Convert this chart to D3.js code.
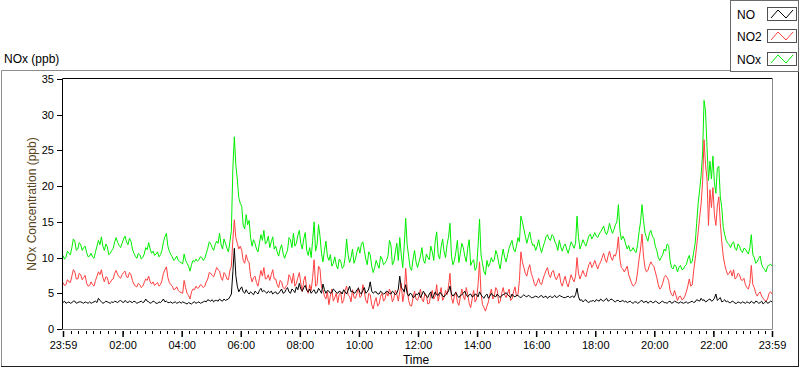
<!DOCTYPE html>
<html lang="en">
<head>
<meta charset="UTF-8">
<title>NOx (ppb)</title>
<script src="https://d3js.org/d3.v7.min.js"></script>
<style>
  body { margin: 0; background: #fff; }
  svg text { font-family: "Liberation Sans", Arial, sans-serif; fill: #000; }
</style>
</head>
<body>
<svg width="800" height="369"></svg>
<script>

  // series (legend order)
  var seriesNames = ["NO", "NO2", "NOx"];
  var seriesColors = ["#000000", "#ff4040", "#00ee00"];

  // readings every 3 minutes from 23:59, one row per hour
  var noData = [
    3.7, 3.9, 3.6, 3.7, 3.8, 3.6, 3.7, 3.9, 3.9, 3.6, 3.7, 3.8, 3.8, 3.7, 3.6, 3.8, 3.7, 3.6, 3.8, 3.6,
    3.7, 3.8, 3.9, 3.7, 4.3, 4.0, 3.8, 3.6, 3.7, 3.9, 3.8, 3.7, 3.6, 3.8, 3.7, 3.9, 3.8, 3.7, 3.9, 4.0,
    3.8, 3.7, 4.0, 3.8, 3.7, 3.9, 3.8, 3.7, 3.9, 3.8, 3.6, 3.7, 3.8, 3.9, 3.7, 3.8, 4.2, 3.9, 3.8, 3.6,
    3.7, 3.9, 3.8, 3.6, 3.6, 3.8, 3.7, 3.9, 4.2, 3.8, 3.9, 3.7, 3.7, 3.8, 3.6, 3.7, 3.8, 3.6, 3.7, 3.8,
    3.6, 3.8, 3.7, 3.6, 3.5, 3.7, 3.6, 3.5, 3.7, 3.8, 3.6, 3.7, 3.8, 3.6, 3.7, 3.8, 3.9, 3.8, 4.1, 4.0,
    3.9, 4.1, 3.8, 4.0, 4.0, 3.9, 4.2, 4.0, 3.9, 4.2, 4.0, 4.1, 4.2, 4.5, 4.9, 8.0, 11.3, 7.5, 6.0, 5.2,
    5.6, 5.9, 5.2, 5.0, 5.5, 5.1, 4.9, 5.2, 5.0, 4.8, 5.3, 5.1, 4.9, 5.4, 5.7, 5.2, 5.4, 5.2, 5.0, 5.3,
    5.1, 5.3, 4.9, 5.1, 5.2, 4.9, 5.0, 5.3, 5.6, 5.0, 5.1, 5.5, 5.8, 5.2, 5.0, 5.6, 5.4, 5.1, 5.9, 5.5,
    6.4, 5.6, 5.3, 5.8, 6.1, 5.4, 5.2, 5.6, 5.0, 5.3, 5.5, 5.0, 5.1, 5.7, 5.4, 5.0, 6.3, 5.5, 5.0, 5.4,
    5.3, 5.0, 5.1, 5.6, 5.4, 5.1, 5.0, 5.3, 5.2, 4.9, 5.5, 5.2, 4.9, 5.4, 6.0, 5.2, 5.3, 5.0, 5.1, 5.5,
    5.7, 5.1, 4.9, 5.4, 5.8, 5.0, 5.2, 5.6, 6.6, 5.3, 5.0, 5.2, 5.2, 4.9, 4.9, 5.3, 5.1, 4.9, 5.0, 5.3,
    5.2, 5.0, 4.9, 5.3, 5.1, 4.8, 5.0, 5.6, 7.4, 5.8, 5.6, 5.2, 6.2, 5.0, 4.6, 5.0, 4.9, 4.4, 4.5, 4.9,
    4.8, 5.1, 4.4, 4.8, 5.3, 4.9, 4.6, 4.4, 4.9, 5.2, 4.3, 4.7, 5.2, 4.8, 4.7, 5.1, 5.0, 4.6, 4.5, 4.8,
    5.0, 5.3, 6.0, 4.9, 4.6, 4.9, 5.1, 4.7, 4.4, 4.7, 4.8, 5.0, 5.3, 4.8, 4.5, 4.8, 4.9, 4.5, 4.6, 4.9,
    4.8, 4.5, 5.2, 4.8, 4.5, 4.3, 4.7, 4.9, 4.3, 4.6, 5.0, 4.7, 4.6, 4.5, 4.9, 4.6, 4.4, 4.7, 4.8, 4.9,
    5.1, 4.8, 4.6, 4.4, 4.9, 4.6, 4.5, 4.7, 4.7, 4.5, 4.4, 4.6, 4.8, 4.6, 4.5, 4.7, 4.6, 4.4, 4.4, 4.5,
    4.6, 4.5, 4.4, 4.6, 4.7, 4.4, 4.5, 4.6, 4.3, 4.5, 4.6, 4.4, 4.5, 4.7, 4.4, 4.5, 4.7, 4.6, 4.5, 4.4,
    4.4, 4.5, 4.6, 4.4, 4.5, 4.6, 4.4, 4.8, 5.7, 4.5, 4.0, 4.1, 3.8, 4.0, 4.1, 3.8, 3.7, 3.9, 3.9, 4.0,
    3.8, 4.1, 4.0, 3.9, 4.2, 4.0, 3.9, 4.1, 4.3, 3.9, 4.0, 4.2, 4.1, 3.9, 3.8, 4.0, 4.0, 3.8, 3.9, 4.0,
    3.8, 3.9, 3.7, 3.8, 3.9, 3.7, 3.6, 3.8, 3.8, 3.6, 3.7, 3.9, 4.0, 3.7, 3.8, 3.9, 3.6, 3.8, 3.9, 3.7,
    3.7, 3.9, 3.8, 3.6, 3.6, 3.8, 3.9, 3.7, 3.7, 3.6, 3.8, 3.9, 3.6, 3.7, 3.9, 3.8, 3.7, 3.6, 3.8, 3.7,
    3.6, 3.7, 3.8, 3.6, 3.7, 3.8, 3.9, 3.7, 3.8, 4.1, 4.0, 3.9, 4.3, 4.0, 4.1, 3.8, 3.9, 4.1, 4.2, 3.9,
    4.0, 4.3, 4.9, 4.0, 4.2, 4.4, 3.8, 3.9, 4.1, 3.8, 3.9, 3.7, 3.7, 3.9, 3.8, 3.6, 3.6, 3.8, 3.7, 3.6,
    3.8, 3.7, 3.6, 3.8, 3.7, 3.6, 3.9, 3.7, 3.6, 3.9, 3.8, 3.6, 3.7, 3.9, 3.5, 3.7, 3.9, 3.6, 3.7, 3.9,
    3.8
  ];
  var no2Data = [
    6.5, 6.1, 6.2, 6.9, 6.6, 6.5, 7.4, 8.3, 8.0, 7.0, 7.0, 7.8, 7.6, 6.9, 7.2, 7.5, 6.4, 6.0, 6.1, 6.6,
    6.2, 6.0, 6.8, 7.4, 8.0, 7.6, 8.3, 7.2, 6.6, 7.3, 7.2, 6.3, 6.5, 6.9, 7.0, 7.8, 8.2, 7.6, 7.3, 7.1,
    7.6, 7.9, 8.1, 7.3, 7.2, 7.9, 7.6, 6.8, 6.3, 6.0, 5.9, 6.4, 6.2, 5.8, 6.0, 6.5, 7.0, 6.8, 7.4, 6.6,
    6.3, 6.6, 6.1, 6.3, 6.5, 6.0, 6.2, 6.8, 7.8, 8.3, 8.7, 7.2, 6.5, 6.2, 6.0, 5.5, 5.6, 5.9, 5.4, 5.2,
    5.1, 5.0, 6.8, 5.8, 5.0, 4.7, 4.2, 5.2, 5.6, 5.5, 6.0, 5.7, 5.8, 6.2, 6.1, 5.8, 6.0, 6.6, 7.0, 7.9,
    7.8, 7.5, 7.3, 7.9, 8.6, 8.3, 8.1, 7.2, 6.8, 7.9, 7.6, 7.0, 6.9, 8.2, 8.8, 12.5, 15.3, 12.8, 12.0, 11.2,
    11.6, 11.0, 9.6, 9.2, 10.4, 9.6, 9.3, 7.4, 6.6, 7.2, 7.4, 6.5, 6.0, 7.1, 8.2, 7.4, 8.6, 7.0, 7.1, 7.6,
    6.8, 7.6, 8.3, 7.0, 7.0, 6.2, 5.8, 6.8, 6.6, 5.8, 5.6, 6.0, 6.2, 7.6, 7.2, 6.4, 7.8, 6.0, 6.4, 7.2,
    7.9, 6.4, 5.2, 6.8, 7.4, 5.6, 5.0, 6.2, 5.4, 7.2, 9.7, 6.0, 6.2, 8.8, 8.4, 5.8, 5.5, 4.6, 4.2, 5.2,
    3.4, 4.6, 5.6, 3.9, 4.4, 5.0, 3.7, 4.8, 5.2, 3.6, 4.0, 5.4, 6.0, 4.8, 4.6, 3.8, 5.5, 4.4, 4.3, 5.0,
    5.8, 4.4, 4.6, 6.2, 5.2, 4.0, 3.6, 5.0, 4.8, 3.4, 2.8, 3.8, 4.4, 3.2, 3.5, 4.6, 5.0, 3.9, 4.2, 5.2,
    4.6, 5.6, 5.0, 3.8, 4.3, 5.4, 4.9, 3.9, 5.2, 6.4, 3.8, 5.0, 8.5, 5.6, 4.0, 3.3, 3.2, 4.4, 5.3, 4.2,
    4.0, 4.6, 5.6, 4.2, 3.8, 5.0, 4.7, 3.5, 3.6, 4.9, 5.4, 4.2, 4.6, 6.2, 3.9, 4.8, 5.8, 4.0, 4.4, 5.4,
    4.8, 6.0, 7.8, 4.4, 3.6, 4.6, 5.2, 3.8, 3.3, 4.4, 5.6, 4.6, 4.1, 5.8, 4.8, 3.6, 3.0, 4.2, 5.4, 3.8,
    4.2, 6.2, 9.4, 5.0, 3.4, 3.0, 2.5, 3.2, 3.8, 4.8, 5.6, 4.2, 4.6, 5.8, 5.4, 3.6, 3.9, 5.0, 5.8, 4.8,
    4.4, 5.0, 5.6, 4.0, 4.2, 5.2, 5.9, 4.6, 4.8, 6.8, 10.8, 9.4, 8.6, 7.8, 7.4, 8.4, 9.0, 7.8, 7.2, 6.4,
    6.0, 6.5, 7.1, 6.4, 6.2, 7.0, 7.6, 8.2, 8.6, 7.6, 7.2, 8.0, 8.2, 7.3, 6.9, 7.4, 7.8, 6.5, 6.0, 6.8,
    7.4, 6.4, 5.9, 6.8, 7.6, 7.0, 6.6, 7.4, 10.0, 7.8, 7.0, 7.6, 8.2, 7.6, 7.3, 8.2, 9.0, 9.4, 8.6, 9.0,
    9.6, 9.0, 8.4, 9.0, 9.4, 10.0, 10.6, 9.8, 9.3, 10.2, 10.9, 10.0, 9.6, 10.4, 10.2, 11.0, 12.9, 9.8, 8.6, 8.4,
    8.0, 8.4, 8.8, 7.6, 7.0, 6.4, 6.0, 6.2, 6.6, 8.0, 9.8, 11.2, 13.3, 10.2, 8.6, 8.0, 8.2, 8.9, 9.4, 9.0,
    8.8, 8.0, 7.2, 6.2, 5.6, 5.8, 6.4, 7.2, 7.5, 7.2, 6.8, 5.4, 4.8, 4.6, 5.4, 4.7, 4.0, 4.5, 4.6, 4.1,
    4.2, 4.6, 5.2, 6.0, 7.0, 6.0, 6.2, 8.2, 9.8, 11.6, 13.5, 15.6, 17.5, 20.5, 26.5, 23.0, 21.0, 14.5, 19.5, 17.0,
    19.8, 16.0, 14.5, 17.2, 18.5, 14.8, 12.2, 10.2, 9.0, 8.2, 7.6, 7.8, 8.2, 7.4, 8.3, 7.0, 7.2, 7.8, 7.6, 6.9,
    6.8, 7.1, 6.2, 5.8, 5.6, 6.4, 8.9, 6.2, 5.8, 5.0, 4.6, 5.0, 5.2, 4.6, 4.3, 4.0, 3.9, 4.2, 5.0, 5.2,
    4.9
  ];
  var noxData = [
    10.3, 9.8, 10.0, 10.9, 10.6, 10.4, 11.4, 12.6, 12.3, 11.0, 11.2, 12.1, 11.8, 11.0, 11.4, 11.6, 10.7, 10.1, 10.2, 10.6,
    10.1, 9.9, 10.8, 11.6, 12.4, 11.8, 12.9, 11.6, 11.0, 11.9, 11.5, 10.4, 10.6, 11.0, 11.3, 12.2, 12.8, 12.1, 11.7, 11.4,
    12.0, 12.6, 13.0, 12.2, 11.8, 12.7, 12.3, 11.2, 10.6, 10.2, 9.9, 10.6, 10.4, 9.8, 10.0, 10.5, 11.4, 11.1, 12.1, 11.2,
    10.6, 10.9, 10.3, 10.5, 10.8, 10.1, 10.4, 11.0, 12.2, 12.9, 13.4, 11.6, 10.9, 10.4, 10.1, 9.6, 9.8, 10.2, 9.6, 9.4,
    9.3, 9.1, 10.5, 9.6, 9.2, 8.8, 8.1, 9.0, 9.6, 9.4, 9.8, 9.5, 9.7, 10.1, 10.0, 9.6, 9.9, 10.6, 11.3, 12.2,
    11.9, 11.4, 11.0, 11.8, 12.3, 12.0, 13.4, 11.8, 11.2, 12.6, 12.0, 11.3, 10.8, 12.2, 13.8, 22.5, 26.9, 23.0, 21.0, 18.4,
    17.6, 17.2, 14.5, 14.0, 16.0, 14.6, 15.2, 12.8, 11.6, 12.5, 12.0, 11.2, 10.8, 12.0, 13.2, 12.4, 13.8, 11.9, 12.2, 13.0,
    11.4, 12.2, 12.9, 11.2, 11.6, 10.8, 10.2, 11.2, 11.8, 10.6, 9.9, 10.5, 11.0, 12.8, 12.5, 11.4, 13.4, 11.6, 12.0, 13.1,
    13.8, 12.0, 11.2, 12.6, 13.5, 11.0, 10.3, 11.4, 10.0, 12.4, 15.0, 10.9, 11.8, 14.6, 13.0, 10.6, 9.4, 11.0, 12.3, 10.2,
    9.6, 10.4, 8.8, 9.2, 10.1, 9.0, 8.4, 9.8, 9.5, 8.5, 8.7, 10.0, 12.6, 10.4, 9.3, 10.0, 11.2, 9.2, 9.8, 10.8,
    11.5, 10.6, 11.9, 12.2, 11.0, 9.8, 9.0, 10.8, 10.4, 8.8, 7.9, 8.6, 9.6, 9.0, 8.5, 10.2, 9.8, 9.0, 9.2, 9.6,
    10.2, 12.4, 11.8, 9.0, 9.4, 10.8, 12.0, 9.6, 12.8, 10.4, 8.6, 11.6, 15.5, 11.8, 10.2, 8.6, 8.2, 9.8, 11.0, 9.4,
    8.6, 9.4, 10.2, 11.4, 9.6, 9.2, 10.5, 10.0, 9.7, 11.6, 10.8, 9.6, 12.3, 13.6, 10.4, 9.8, 11.5, 12.6, 10.8, 10.0,
    11.8, 12.9, 14.8, 10.2, 9.0, 9.6, 10.8, 12.4, 9.3, 10.6, 12.0, 11.4, 10.2, 9.4, 11.3, 12.5, 8.9, 9.4, 9.7, 8.2,
    8.6, 11.6, 15.4, 10.4, 9.2, 8.0, 7.6, 9.6, 8.7, 9.2, 10.0, 9.4, 9.7, 11.0, 10.4, 9.2, 8.4, 10.0, 11.2, 10.0,
    9.4, 10.4, 11.3, 11.9, 12.4, 11.2, 10.8, 11.6, 12.8, 12.2, 15.8, 15.0, 14.0, 13.0, 12.0, 12.8, 13.6, 12.4, 11.7, 11.8,
    11.0, 11.6, 12.5, 11.4, 10.7, 11.5, 12.1, 12.9, 13.2, 12.6, 12.4, 13.2, 13.0, 12.2, 11.8, 11.0, 12.4, 11.5, 10.9, 11.6,
    11.9, 11.2, 10.6, 11.4, 12.2, 11.8, 11.3, 12.0, 15.8, 12.8, 11.2, 11.8, 12.5, 12.0, 11.6, 12.3, 13.0, 13.3, 12.6, 13.0,
    13.5, 13.0, 12.8, 13.3, 13.6, 14.0, 14.4, 13.6, 13.2, 13.8, 14.8, 14.0, 13.4, 13.9, 14.6, 15.0, 17.4, 13.9, 12.5, 13.0,
    12.6, 11.8, 11.2, 11.7, 10.9, 11.0, 11.4, 10.9, 10.7, 11.8, 13.6, 15.0, 17.4, 15.2, 13.5, 12.8, 12.3, 13.4, 13.8, 13.0,
    12.7, 11.6, 11.0, 10.0, 9.6, 10.0, 10.4, 11.2, 10.9, 11.9, 11.7, 9.6, 8.6, 8.4, 9.0, 8.8, 8.0, 8.6, 8.9, 8.3,
    8.4, 8.8, 9.0, 9.8, 10.3, 9.2, 9.5, 10.8, 12.0, 14.8, 17.6, 19.4, 21.5, 24.5, 32.0, 30.5, 25.5, 20.8, 23.5, 21.0,
    24.2, 20.5, 19.0, 22.5, 22.8, 18.5, 17.0, 14.2, 13.2, 12.4, 12.0, 11.8, 11.4, 12.0, 12.2, 11.3, 11.0, 11.9, 11.6, 11.0,
    10.7, 11.3, 11.2, 10.8, 10.5, 11.4, 13.2, 10.4, 10.0, 9.2, 9.4, 9.9, 10.2, 9.0, 8.6, 8.3, 8.0, 8.8, 8.9, 9.1,
    8.8
  ];

  var yTickValues = [0, 5, 10, 15, 20, 25, 30, 35];
  var xTickLabels = ["23:59", "02:00", "04:00", "06:00", "08:00", "10:00", "12:00",
                     "14:00", "16:00", "18:00", "20:00", "22:00", "23:59"];

  var svg = d3.select("svg");
  var parse = d3.timeParse("%Y-%m-%d %H:%M");
  var start = parse("2020-01-01 23:59");
  var end = parse("2020-01-02 23:59");
  var stepMin = 3;

  var x = d3.scaleTime().domain([start, end]).range([63, 772]);
  var y = d3.scaleLinear().domain([0, 35]).range([329, 79]);

  // outer panel frame
  svg.append("line").attr("x1", 1.5).attr("y1", 70.5).attr("x2", 798).attr("y2", 70.5).attr("stroke", "#8c8c8c");
  svg.append("line").attr("x1", 1.5).attr("y1", 70.5).attr("x2", 1.5).attr("y2", 366).attr("stroke", "#8c8c8c");
  svg.append("line").attr("x1", 1).attr("y1", 366.5).attr("x2", 799).attr("y2", 366.5).attr("stroke", "#1e1e1e");
  svg.append("line").attr("x1", 798.5).attr("y1", 70).attr("x2", 798.5).attr("y2", 367).attr("stroke", "#1e1e1e");

  svg.append("text").attr("x", 4).attr("y", 63).style("font-size", "12px").text("NOx (ppb)");

  // data lines
  svg.append("clipPath").attr("id", "plotClip")
    .append("rect").attr("x", 62).attr("y", 79).attr("width", 710).attr("height", 250);

  var series = [noData, no2Data, noxData];
  var line = d3.line()
    .x(function (d, i) { return x(d3.timeMinute.offset(start, i * stepMin)); })
    .y(function (d) { return y(d); });

  var plot = svg.append("g").attr("clip-path", "url(#plotClip)");
  [2, 1, 0].forEach(function (k) {
    plot.append("path")
      .datum(series[k])
      .attr("fill", "none")
      .attr("stroke", seriesColors[k])
      .attr("stroke-width", 1)
      .attr("d", line);
  });

  // plot frame: dark top/left, grey bottom/right
  svg.append("line").attr("x1", 62.5).attr("y1", 78.5).attr("x2", 772.5).attr("y2", 78.5).attr("stroke", "#000");
  svg.append("line").attr("x1", 62.5).attr("y1", 78.5).attr("x2", 62.5).attr("y2", 329.5).attr("stroke", "#000");
  svg.append("line").attr("x1", 62.5).attr("y1", 329.5).attr("x2", 772.5).attr("y2", 329.5).attr("stroke", "#8a8a8a");
  svg.append("line").attr("x1", 772.5).attr("y1", 78.5).attr("x2", 772.5).attr("y2", 329.5).attr("stroke", "#8a8a8a");

  // y axis
  var yAxis = svg.append("g")
    .attr("transform", "translate(62,0)")
    .call(d3.axisLeft(y).tickValues(yTickValues).tickSize(5).tickPadding(3));
  yAxis.select(".domain").remove();
  yAxis.selectAll("text").style("font-size", "11px").attr("fill", "#000");
  yAxis.selectAll("line").attr("stroke", "#000").attr("shape-rendering", "crispEdges");

  // x axis, major ticks from the labels
  var majorDates = xTickLabels.map(function (s, i) {
    return parse((i === 0 ? "2020-01-01 " : "2020-01-02 ") + s);
  });
  var minorDates = d3.timeMinute.every(15).range(parse("2020-01-02 00:00"), end);

  var xMinor = svg.append("g")
    .attr("transform", "translate(0,331)")
    .call(d3.axisBottom(x).tickValues(minorDates).tickSize(3).tickFormat(""));
  xMinor.select(".domain").remove();
  xMinor.selectAll("line").attr("stroke", "#000").attr("shape-rendering", "crispEdges");

  var xAxis = svg.append("g")
    .attr("transform", "translate(0,331)")
    .call(d3.axisBottom(x).tickValues(majorDates).tickSize(6).tickPadding(4)
      .tickFormat(function (d, i) { return xTickLabels[i]; }));
  xAxis.select(".domain").remove();
  xAxis.selectAll("text").style("font-size", "11px").attr("fill", "#000");
  xAxis.selectAll("line").attr("stroke", "#000").attr("stroke-width", 1.5);

  // axis titles
  svg.append("text")
    .attr("transform", "translate(35.5,204) rotate(-90)")
    .attr("text-anchor", "middle")
    .style("font-size", "12px")
    .style("fill", "#5a4520")
    .text("NOx Concentration (ppb)");

  svg.append("text")
    .attr("x", 416).attr("y", 364)
    .attr("text-anchor", "middle")
    .style("font-size", "12px")
    .text("Time");

  // legend
  var legend = svg.append("g");
  legend.append("rect")
    .attr("x", 730.5).attr("y", 0.5).attr("width", 68).attr("height", 71)
    .attr("fill", "#fff").attr("stroke", "#6a6a6a");

  var rowY = [14, 36, 59];
  seriesNames.forEach(function (name, k) {
    var cy = rowY[k];
    legend.append("text").attr("x", 737).attr("y", cy + 4.5).style("font-size", "12px").text(name);
    legend.append("rect")
      .attr("x", 767.5).attr("y", cy - 6.5).attr("width", 29).attr("height", 13)
      .attr("fill", "#fff").attr("stroke", "#505050");
    legend.append("path")
      .attr("d", d3.line()([[771, cy + 4], [778, cy - 4], [786, cy + 4], [793, cy - 4]]))
      .attr("fill", "none")
      .attr("stroke", seriesColors[k]);
  });

</script>
</body>
</html>
